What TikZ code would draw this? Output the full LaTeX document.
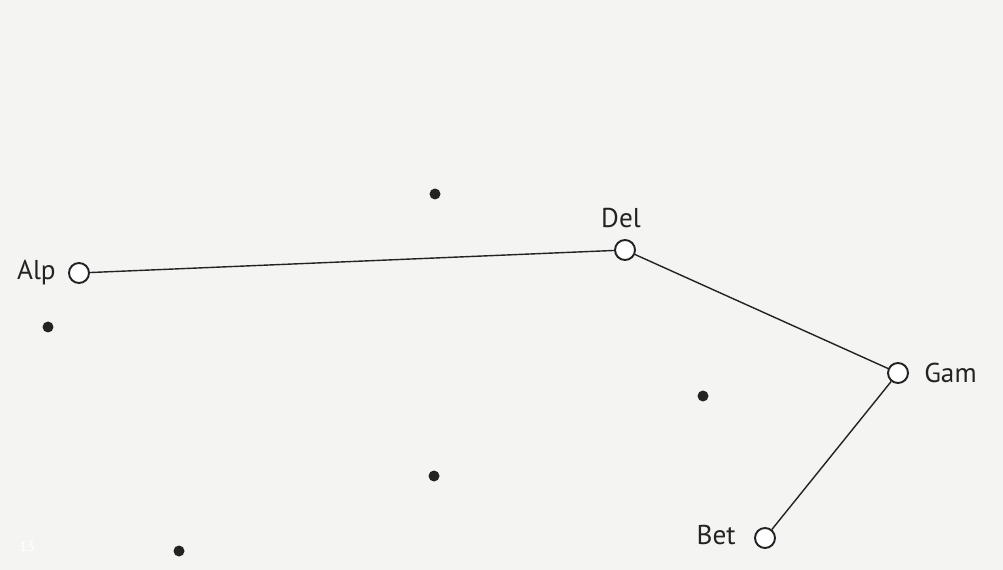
\documentclass[tikz,border=0pt]{standalone}
\usepackage{fontspec}
\setmainfont{PT Sans}
\usetikzlibrary{positioning}

\definecolor{paper}{RGB}{244,244,242}
\definecolor{ink}{RGB}{35,35,35}

\begin{document}
\begin{tikzpicture}[x=0.02cm,y=-0.02cm,
  star/.style={draw=ink,line width=1.1pt,circle,fill=white,minimum size=0.4cm,inner sep=0pt},
  dot/.style={circle,fill=ink,minimum size=0.22cm,inner sep=0pt},
  starname/.style={font=\fontsize{15.5}{18}\selectfont,text=ink,inner sep=0pt},
  link/.style={draw=ink,line width=0.8pt}]
\fill[paper] (0,0) rectangle (1003,570);
\useasboundingbox (0,0) rectangle (1003,570);
% stars of the figure
\node[star] (alp) at (79,273) {};
\node[star] (del) at (625,250) {};
\node[star] (gam) at (898,373) {};
\node[star] (bet) at (765,538) {};
\draw[link] (alp) -- (del) -- (gam) -- (bet);
% names
\node[starname,left=0.24cm of alp] (alpname) {Alp};
\node[starname,above=0.22cm of del,xshift=-0.08cm] (delname) {Del};
\node[starname,right=0.3cm of gam] (gamname) {Gam};
\node[starname,left=0.36cm of bet,yshift=0.05cm] (betname) {Bet};
% other stars
\node[dot] (d1) at (435,194) {};
\node[dot] (d2) at (48,327) {};
\node[dot] (d3) at (703,396) {};
\node[dot] (d4) at (434,476) {};
\node[dot] (d5) at (179,551) {};
\node[font=\fontsize{8}{10}\selectfont,text=white] (pagenum) at (27,547) {13};
\end{tikzpicture}
\end{document}
